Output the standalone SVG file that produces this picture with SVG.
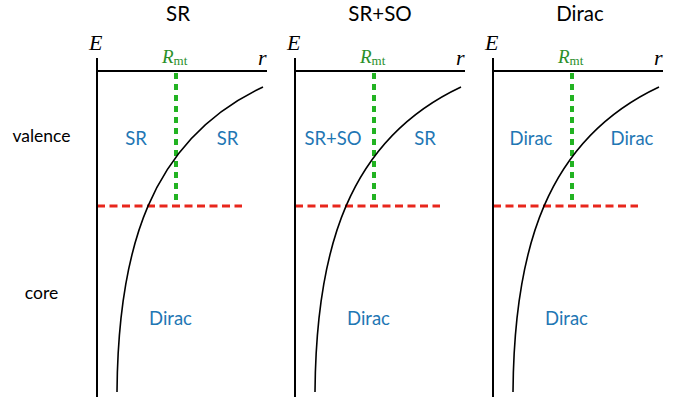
<svg xmlns="http://www.w3.org/2000/svg" width="679" height="399" viewBox="0 0 679 399">
<style>
.title{font-family:Lato,"Open Sans",sans-serif;font-size:20.5px;fill:#000;text-anchor:middle}
.side{font-family:Lato,"Open Sans",sans-serif;font-size:17.5px;fill:#000;text-anchor:middle}
.lab{font-family:Lato,"Open Sans",sans-serif;font-size:18.5px;fill:#1f77b4;text-anchor:middle}
.math{font-family:"Liberation Serif",serif;font-style:italic;font-size:22px;fill:#000}
.rmt{font-family:"Liberation Serif",serif;font-style:italic;font-size:19px;fill:#2a8f2a}
.sub{font-family:"Liberation Serif",serif;font-style:normal;font-size:13px}
.axis{stroke:#000;stroke-width:2;fill:none}
.curve{stroke:#000;stroke-width:1.6;fill:none}
.green{stroke:#22b322;stroke-width:4;stroke-dasharray:6 5;fill:none}
.red{stroke:#e8261c;stroke-width:3;stroke-dasharray:8 4.5;fill:none}
</style>
<defs>
<g id="panel">
<line class="green" x1="79" y1="73" x2="79" y2="206"/>
<line class="red" x1="0" y1="206" x2="145" y2="206"/>
<path class="axis" d="M0,58 V397 M0,71 H170"/>
<path class="curve" d="M20,392 C21,250 53,140 166,87"/>
<text class="math" x="-8" y="50">E</text>
<text class="math" x="161" y="65">r</text>
<text class="rmt" x="65" y="63">R<tspan class="sub" dy="2">mt</tspan></text>
</g>
</defs>
<g id="labels">
<text class="side" x="41.5" y="142">valence</text>
<text class="side" x="41.5" y="299">core</text>
</g>
<g id="panel-SR">
<use href="#panel" x="97"/>
<text class="title" x="178" y="21">SR</text>
<text class="lab" x="136" y="145">SR</text>
<text class="lab" x="227.5" y="145">SR</text>
<text class="lab" x="170.5" y="325">Dirac</text>
</g>
<g id="panel-SRSO">
<use href="#panel" x="295"/>
<text class="title" x="380" y="21">SR+SO</text>
<text class="lab" x="333" y="145">SR+SO</text>
<text class="lab" x="425" y="145">SR</text>
<text class="lab" x="368.5" y="325">Dirac</text>
</g>
<g id="panel-Dirac">
<use href="#panel" x="493"/>
<text class="title" x="580" y="21">Dirac</text>
<text class="lab" x="531" y="145">Dirac</text>
<text class="lab" x="632" y="145">Dirac</text>
<text class="lab" x="566.5" y="325">Dirac</text>
</g>
</svg>
